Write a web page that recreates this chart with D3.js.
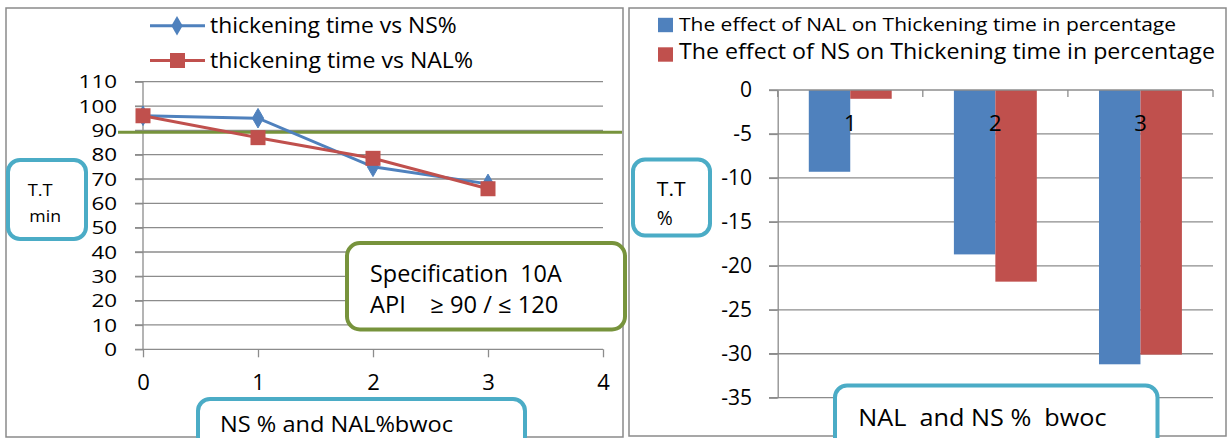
<!DOCTYPE html>
<html><head><meta charset="utf-8">
<script src="https://cdn.jsdelivr.net/npm/d3@7"></script>
<style>
html,body{margin:0;padding:0;background:#fff;}
svg{display:block;font-family:"Open Sans",Lato,sans-serif;}
text{white-space:pre;}
</style></head>
<body><svg id="c" width="1228" height="438"></svg>
<script>
// ---- data ----
const lineX = [0, 1, 2, 3];
const nsValues = [96, 95, 75, 68];
const nalValues = [96, 87, 78.5, 66];
const lineSeriesNames = ["thickening time vs NS%", "thickening time vs NAL%"];
const leftYTicks = [0,10,20,30,40,50,60,70,80,90,100,110];
const leftXTicks = [0,1,2,3,4];
const specValue = 89.2;
const specText = ["Specification  10A", "API    \u2265 90 / \u2264 120"];
const leftYTitle = ["T.T", "min"];
const leftXTitle = "NS % and NAL%bwoc";

const barCategories = ["1", "2", "3"];
const nalEffect = [-9.3, -18.7, -31.2];
const nsEffect = [-1.0, -21.8, -30.1];
const barSeriesNames = ["The effect of NAL on Thickening time in percentage", "The effect of NS on Thickening time in percentage"];
const rightYTicks = [0,-5,-10,-15,-20,-25,-30,-35];
const rightYTitle = ["T.T", "%"];
const rightXTitle = "NAL  and NS %  bwoc";

// ---- styles ----
const FONT = "Open Sans";
const BLUE = "#4F81BD", RED = "#C0504D", GREEN = "#77933C", TEAL = "#4BACC6";
const GRID = "#8C8C8C", FRAME = "#8A8A8A";

const svg = d3.select("#c");

function label(x, y, str, size, width, anchor){
  const t = svg.append("text").attr("x",x).attr("y",y).attr("font-size",size)
    .attr("text-anchor",anchor||"start").attr("fill","#000").text(str);
  if(width) t.attr("textLength",width).attr("lengthAdjust","spacingAndGlyphs");
  return t;
}

// ===== LEFT CHART =====
svg.append("rect").attr("x",6).attr("y",8).attr("width",617).attr("height",429)
  .attr("fill","#fff").attr("stroke",FRAME).attr("stroke-width",1.5);

const lx = d3.scaleLinear().domain([0,4]).range([143,603]);
const ly = d3.scaleLinear().domain([0,110]).range([349.3,81.7]);

svg.append("g").selectAll("line").data(leftYTicks.filter(d=>d>0)).join("line")
  .attr("x1",135).attr("x2",lx(4)).attr("y1",d=>ly(d)).attr("y2",d=>ly(d))
  .attr("stroke",GRID).attr("stroke-width",1.3);

const lyAxis = svg.append("g").attr("transform",`translate(${lx(0)},0)`)
  .call(d3.axisLeft(ly).tickValues(leftYTicks).tickSize(8).tickPadding(18).tickSizeOuter(0).tickFormat(d3.format("d")));
const lxAxis = svg.append("g").attr("transform",`translate(0,${ly(0)})`)
  .call(d3.axisBottom(lx).tickValues(leftXTicks).tickSize(8).tickPadding(17).tickSizeOuter(0).tickFormat(d3.format("d")));
[lyAxis,lxAxis].forEach(a=>{
  a.select(".domain").attr("stroke",GRID).attr("stroke-width",1.3);
  a.selectAll(".tick line").attr("stroke",GRID).attr("stroke-width",1.3);
});
lyAxis.selectAll("text").attr("font-size",19).attr("font-family",FONT).attr("fill","#000");
lyAxis.selectAll("text").each(function(d){ d3.select(this).attr("textLength", String(d).length*12.8).attr("lengthAdjust","spacingAndGlyphs"); });
lxAxis.selectAll("text").attr("font-size",22).attr("font-family",FONT).attr("fill","#000");
lyAxis.select(".domain").attr("d",`M0,${ly(110)}V${ly(0)}`);
lxAxis.select(".domain").attr("d",`M135,0H${lx(4)}`);

svg.append("line").attr("x1",118).attr("x2",622).attr("y1",ly(specValue)).attr("y2",ly(specValue))
  .attr("stroke",GREEN).attr("stroke-width",3);

const lineGen = d3.line().x((d,i)=>lx(lineX[i])).y(d=>ly(d));
svg.append("path").datum(nsValues).attr("d",lineGen).attr("fill","none").attr("stroke",BLUE).attr("stroke-width",3);
svg.append("g").selectAll("path").data(nsValues).join("path")
  .attr("d",d3.symbol(d3.symbolDiamond,110)).attr("transform",(d,i)=>`translate(${lx(lineX[i])},${ly(d)})`)
  .attr("fill",BLUE).attr("stroke",BLUE);
svg.append("path").datum(nalValues).attr("d",lineGen).attr("fill","none").attr("stroke",RED).attr("stroke-width",3);
svg.append("g").selectAll("rect").data(nalValues).join("rect")
  .attr("x",(d,i)=>lx(lineX[i])-7.5).attr("y",d=>ly(d)-7.5).attr("width",15).attr("height",15)
  .attr("fill",RED);

const lleg = [{c:BLUE,t:lineSeriesNames[0],y:25.7,b:33.3,w:246.7,m:"d"},
              {c:RED,t:lineSeriesNames[1],y:60.5,b:68.3,w:263,m:"s"}];
lleg.forEach(l=>{
  svg.append("line").attr("x1",150).attr("x2",205).attr("y1",l.y).attr("y2",l.y).attr("stroke",l.c).attr("stroke-width",3);
  if(l.m==="d") svg.append("path").attr("d",d3.symbol(d3.symbolDiamond,110)).attr("transform",`translate(177,${l.y})`).attr("fill",l.c);
  else svg.append("rect").attr("x",170).attr("y",l.y-7.5).attr("width",15).attr("height",15).attr("fill",l.c);
  label(210, l.b, l.t, 21, l.w);
});

svg.append("rect").attr("x",8).attr("y",160).attr("width",78).attr("height",79).attr("rx",12)
  .attr("fill","#fff").attr("stroke",TEAL).attr("stroke-width",4);
label(40.2, 196, leftYTitle[0], 17, 25, "middle");
label(45.2, 221.7, leftYTitle[1], 17, 31.7, "middle");

svg.append("rect").attr("x",347).attr("y",243).attr("width",278).attr("height",86.5).attr("rx",13)
  .attr("fill","#fff").attr("stroke",GREEN).attr("stroke-width",4);
label(370, 281.7, specText[0], 23, 191.7);
label(370, 313.3, specText[1], 23, 188.3);

svg.append("rect").attr("x",198).attr("y",399).attr("width",327).attr("height",70).attr("rx",12)
  .attr("fill","#fff").attr("stroke",TEAL).attr("stroke-width",4);
label(220, 431.5, leftXTitle, 22, 233);

// ===== RIGHT CHART =====
svg.append("rect").attr("x",629).attr("y",8).attr("width",597).attr("height",428)
  .attr("fill","#fff").attr("stroke",FRAME).attr("stroke-width",1.5);
svg.append("line").attr("x1",625).attr("x2",625).attr("y1",255).attr("y2",318).attr("stroke",GREEN).attr("stroke-width",2);

const bx = d3.scaleBand().domain(barCategories).range([777.7,1213]).paddingInner(0).paddingOuter(0);
const bw = bx.bandwidth()/3.5;
const by = d3.scaleLinear().domain([-35,0]).range([397.7,90]);

svg.append("g").selectAll("line").data(rightYTicks.filter(d=>d<0)).join("line")
  .attr("x1",769).attr("x2",bx.range()[1]).attr("y1",d=>by(d)).attr("y2",d=>by(d))
  .attr("stroke",GRID).attr("stroke-width",1.3);

const rg = svg.append("g");
barCategories.forEach((c,i)=>{
  const x0 = bx(c) + (bx.bandwidth()-2*bw)/2;
  rg.append("rect").attr("x",x0).attr("y",by(0)).attr("width",bw).attr("height",by(nalEffect[i])-by(0)).attr("fill",BLUE);
  rg.append("rect").attr("x",x0+bw).attr("y",by(0)).attr("width",bw).attr("height",by(nsEffect[i])-by(0)).attr("fill",RED);
});

const ryAxis = svg.append("g").attr("transform",`translate(${bx.range()[0]},0)`)
  .call(d3.axisLeft(by).tickValues(rightYTicks).tickSize(8.7).tickPadding(17).tickSizeOuter(0).tickFormat(d3.format("d")));
ryAxis.select(".domain").attr("stroke",GRID).attr("stroke-width",1.3);
ryAxis.selectAll(".tick line").attr("stroke",GRID).attr("stroke-width",1.3);
ryAxis.selectAll("text").attr("font-size",21).attr("font-family",FONT).attr("fill","#000");
ryAxis.selectAll("text").text(d=>d===0?"0":"-"+Math.abs(d));

const rxAxis = svg.append("g").attr("transform",`translate(0,${by(0)})`)
  .call(d3.axisBottom(bx).tickSize(0).tickPadding(25));
rxAxis.select(".domain").attr("stroke",GRID).attr("stroke-width",1.3).attr("d",`M769,0H${bx.range()[1]}`);
rxAxis.selectAll("text").attr("font-size",22).attr("font-family",FONT).attr("fill","#000");
const edges = barCategories.map(c=>bx(c)).concat([bx.range()[1]]);
rxAxis.selectAll(".edge").data(edges).join("line").attr("class","edge")
  .attr("x1",d=>d).attr("x2",d=>d).attr("y1",0).attr("y2",7).attr("stroke",GRID).attr("stroke-width",1.3);

const rleg = [{c:BLUE,t:barSeriesNames[0],y:25,b:31,s:19,w:497},
              {c:RED,t:barSeriesNames[1],y:54.5,b:59,s:21,w:536}];
rleg.forEach(l=>{
  svg.append("rect").attr("x",658).attr("y",l.y-7.2).attr("width",15).attr("height",14.4).attr("fill",l.c);
  label(679, l.b, l.t, l.s, l.w);
});

svg.append("rect").attr("x",633).attr("y",159.5).attr("width",77).attr("height",76).attr("rx",12)
  .attr("fill","#fff").attr("stroke",TEAL).attr("stroke-width",4);
label(656.8, 196, rightYTitle[0], 20, 28.8);
label(656.8, 225, rightYTitle[1], 20, 16);

svg.append("rect").attr("x",835).attr("y",385.5).attr("width",322.5).attr("height",70).attr("rx",12)
  .attr("fill","#fff").attr("stroke",TEAL).attr("stroke-width",4);
label(858.3, 425.7, rightXTitle, 24, 248.3);
</script></body></html>
